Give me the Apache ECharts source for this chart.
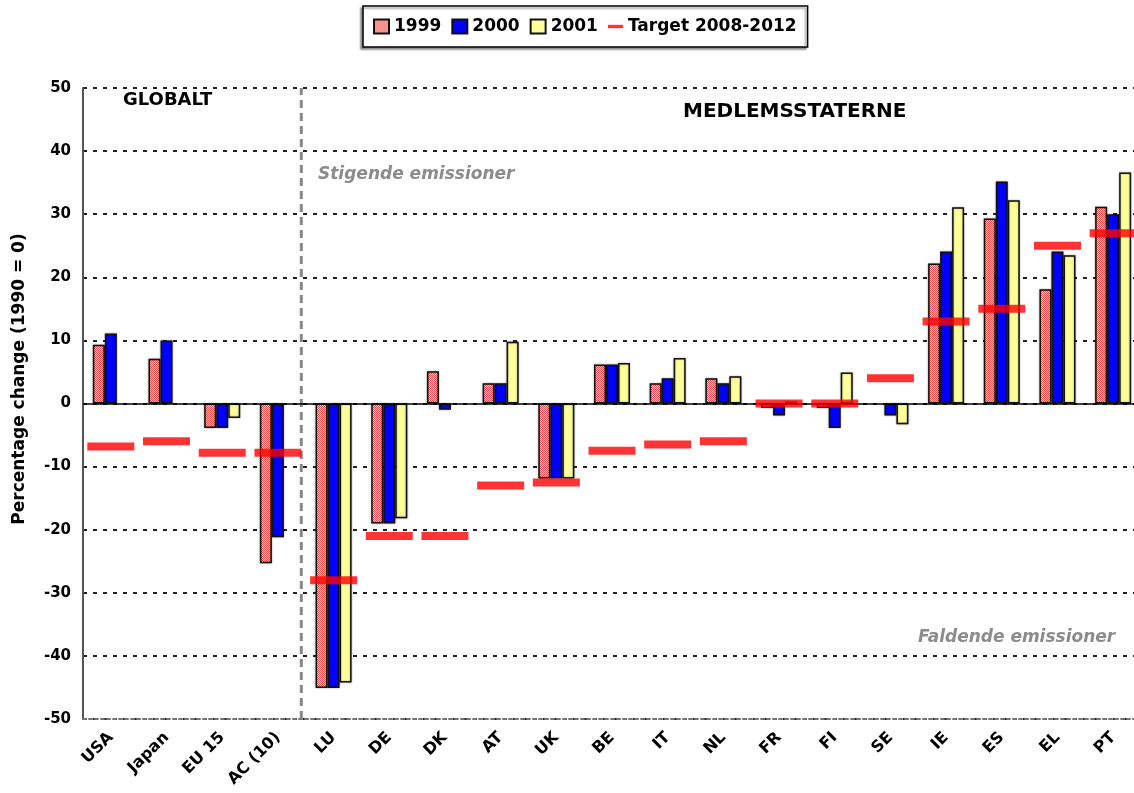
<!DOCTYPE html>
<html>
<head>
<meta charset="utf-8">
<script src="https://cdn.jsdelivr.net/npm/echarts@6/dist/echarts.min.js"></script>
<style>
    html, body { margin: 0; padding: 0; background: #fff; }
    #chart { width: 1134px; height: 793px; }
</style>
</head>
<body>
<div id="chart"></div>
<script>
const categories = ["USA", "Japan", "EU 15", "AC (10)", "LU", "DE", "DK", "AT", "UK", "BE", "IT", "NL", "FR", "FI", "SE", "IE", "ES", "EL", "PT"];
const v1999 = [9.3, 7.1, -3.9, -25.3, -45.1, -19.0, 5.1, 3.2, -11.9, 6.2, 3.2, 4.0, -0.7, -0.7, null, 22.2, 29.3, 18.1, 31.2];
const v2000 = [11.1, 10.0, -3.9, -21.2, -45.1, -19.0, -1.0, 3.2, -11.9, 6.2, 4.0, 3.2, -1.9, -3.9, -1.9, 24.1, 35.2, 24.1, 30.0];
const v2001 = [null, null, -2.3, null, -44.2, -18.2, null, 9.8, -11.9, 6.4, 7.2, 4.3, 0.3, 4.9, -3.3, 31.1, 32.2, 23.5, 36.6];
const target = [-6.8, -6.0, -7.8, -7.8, -28.0, -21.0, -21.0, -13.0, -12.5, -7.5, -6.5, -6.0, 0, 0, 4.0, 13.0, 15.0, 25.0, 27.0];
const yTicks = [-50, -40, -30, -20, -10, 0, 10, 20, 30, 40, 50];
// the GLOBALT / MEDLEMSSTATERNE divider, a bit left of the 4th category boundary
const dividerAt = 3.92;

// hatched fill for 1999
const makePattern = () => {
    const c = document.createElement("canvas");
    c.width = 2;
    c.height = 2;
    const ctx = c.getContext("2d");
    ctx.fillStyle = "#ffdcdc";
    ctx.fillRect(0, 0, 2, 2);
    ctx.fillStyle = "#f04848";
    ctx.fillRect(0, 0, 1, 1);
    ctx.fillRect(1, 1, 1, 1);
    return { image: c, repeat: "repeat" };
};

const font = "'DejaVu Sans', Arial, sans-serif";
const barStyle = color => ({
    color,
    borderColor: "#111",
    borderWidth: 1.5,
    shadowColor: "rgba(0,0,0,0.35)",
    shadowBlur: 2,
});

const myChart = echarts.init(document.getElementById("chart"), null, { renderer: "canvas" });

const option = {
    animation: false,
    backgroundColor: "#fff",
    textStyle: { fontFamily: font },
    legend: {
        top: 6,
        left: 363,
        padding: [12, 11, 12, 10],
        borderColor: "#000",
        borderWidth: 1.5,
        shadowColor: "rgba(0,0,0,0.4)",
        shadowBlur: 2,
        shadowOffsetX: -2,
        shadowOffsetY: 2,
        backgroundColor: "#fff",
        itemWidth: 15,
        itemHeight: 14,
        itemGap: 10,
        textStyle: { fontSize: 17, fontWeight: "bold", color: "#000", fontFamily: font },
        data: [
            { name: "1999", icon: "rect" },
            { name: "2000", icon: "rect" },
            { name: "2001", icon: "rect" },
            { name: "Target 2008-2012", icon: "path://M0,0 H18 V4 H0 Z" },
        ],
    },
    grid: {
        left: 83,
        top: 88,
        width: 1058,
        height: 631,
        outerBoundsMode: "none",
    },
    xAxis: [
        {
            type: "category",
            data: categories,
            axisLine: {
                onZero: false,
                lineStyle: { color: "#777", width: 2, type: [3, 3] },
            },
            axisTick: { show: false },
            axisLabel: {
                rotate: 45,
                interval: 0,
                margin: 16,
                fontSize: 16,
                fontWeight: "bold",
                color: "#000",
                fontFamily: font,
            },
            splitLine: { show: false },
        },
        {
            type: "value",
            min: 0,
            max: categories.length,
            show: false,
        },
    ],
    yAxis: {
        type: "value",
        min: yTicks[0],
        max: yTicks[yTicks.length - 1],
        interval: 10,
        axisLine: { show: true, lineStyle: { color: "#555", width: 2 } },
        axisTick: { show: false },
        axisLabel: { fontSize: 15, fontWeight: "bold", color: "#000", margin: 12, fontFamily: font },
        splitLine: {
            lineStyle: { color: "#222", width: 2, type: [4, 6] },
        },
    },
    graphic: [
        {
            type: "text",
            x: 20,
            y: 379,
            rotation: Math.PI / 2,
            style: { text: "Percentage change (1990 = 0)", font: "bold 17px " + font, fill: "#000", align: "center", verticalAlign: "middle" },
        },
        { type: "text", left: 123, top: 91, style: { text: "GLOBALT", font: "bold 18px " + font, fill: "#000" } },
        { type: "text", left: 683, top: 102, style: { text: "MEDLEMSSTATERNE", font: "bold 20px " + font, fill: "#000" } },
        { type: "text", left: 318, top: 166, style: { text: "Stigende emissioner", font: "italic bold 17px " + font, fill: "#8c8c8c" } },
        { type: "text", left: 918, top: 629, style: { text: "Faldende emissioner", font: "italic bold 17px " + font, fill: "#8c8c8c" } },
    ],
    series: [
        {
            name: "divider",
            type: "line",
            xAxisIndex: 1,
            data: [[dividerAt, yTicks[0]], [dividerAt, yTicks[yTicks.length - 1]]],
            symbol: "none",
            silent: true,
            z: 1,
            lineStyle: { color: "#888", width: 3, type: [8, 5] },
        },
        {
            name: "1999",
            type: "bar",
            data: v1999,
            barWidth: 12,
            barGap: "0%",
            itemStyle: barStyle(makePattern()),
            markLine: {
                silent: true,
                symbol: "none",
                label: { show: false },
                lineStyle: { color: "#000", width: 1.5, type: "solid" },
                data: [{ yAxis: 0 }],
            },
        },
        {
            name: "2000",
            type: "bar",
            data: v2000,
            barWidth: 12,
            barGap: "0%",
            itemStyle: barStyle("#0000ff"),
        },
        {
            name: "2001",
            type: "bar",
            data: v2001,
            barWidth: 12,
            barGap: "0%",
            itemStyle: barStyle("#ffff99"),
        },
        {
            name: "Target 2008-2012",
            type: "scatter",
            data: target,
            symbol: "rect",
            symbolSize: [47, 8],
            z: 5,
            itemStyle: { color: "#ff0000" },
        },
    ],
};

myChart.setOption(option);
</script>
</body>
</html>
